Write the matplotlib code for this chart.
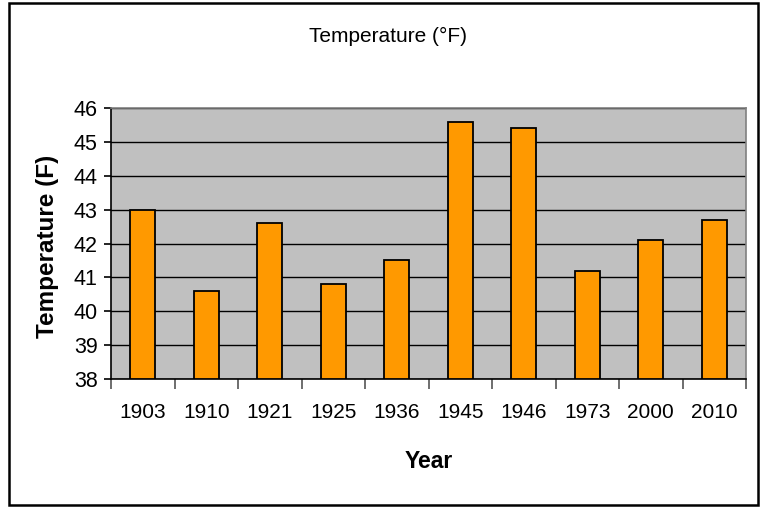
import matplotlib.pyplot as plt
import numpy as np

years = ['1903', '1910', '1921', '1925', '1936', '1945', '1946', '1973', '2000', '2010']
temps = [43.0, 40.6, 42.6, 40.8, 41.5, 45.6, 45.4, 41.2, 42.1, 42.7]
yticks = [38, 39, 40, 41, 42, 43, 44, 45, 46]

plt.rcParams['font.family'] = ['Liberation Sans', 'DejaVu Sans']

W, H = 765, 507
fig = plt.figure(figsize=(W / 100, H / 100), dpi=100)
# outer chart border
fig.patches.append(plt.Rectangle((9 / W, 2 / H), 749 / W, 502 / H, transform=fig.transFigure,
                                 fill=False, edgecolor='black', linewidth=1.8))

ax = fig.add_axes([111 / W, 128 / H, 635 / W, 271 / H])
ax.set_facecolor('#C0C0C0')
x = np.arange(len(years))
ax.bar(x, np.array(temps) - 38, bottom=38, width=0.4, color='#FF9900', edgecolor='black',
       linewidth=1.3, zorder=3)

ax.set_ylim(38, 46)
ax.set_xlim(-0.5, len(years) - 0.5)
ax.set_yticks(yticks)
ax.set_yticklabels([str(t) for t in yticks], fontsize=15.5)
ax.yaxis.grid(True, color='black', linewidth=1, zorder=1)
ax.set_axisbelow(True)

# ticks between categories, labels at centers
ax.set_xticks(np.arange(len(years) + 1) - 0.5)
ax.set_xticklabels([])
ax.set_xticks(x, minor=True)
ax.set_xticklabels(years, minor=True, fontsize=15)
ax.tick_params(axis='x', which='major', length=7, direction='out', color='#555555', width=1.2)
ax.tick_params(axis='x', which='minor', length=0, pad=17)
ax.tick_params(axis='y', length=5, direction='out', width=1.2, pad=4.5)

for side in ['top', 'right']:
    ax.spines[side].set_color('#808080')
    ax.spines[side].set_linewidth(1.2)
for side in ['left', 'bottom']:
    ax.spines[side].set_color('black')
    ax.spines[side].set_linewidth(1.2)

fig.text(429 / W, 1 - 461 / H, 'Year', ha='center', va='center', fontsize=16.5, fontweight='bold')
fig.text(48 / W, 1 - 246 / H, 'Temperature (F)', ha='center', va='center', rotation=90,
         fontsize=17.5, fontweight='bold')
fig.text(388 / W, 1 - 36 / H, 'Temperature (°F)', ha='center', va='center', fontsize=15)

fig.savefig('out.png', dpi=100)
